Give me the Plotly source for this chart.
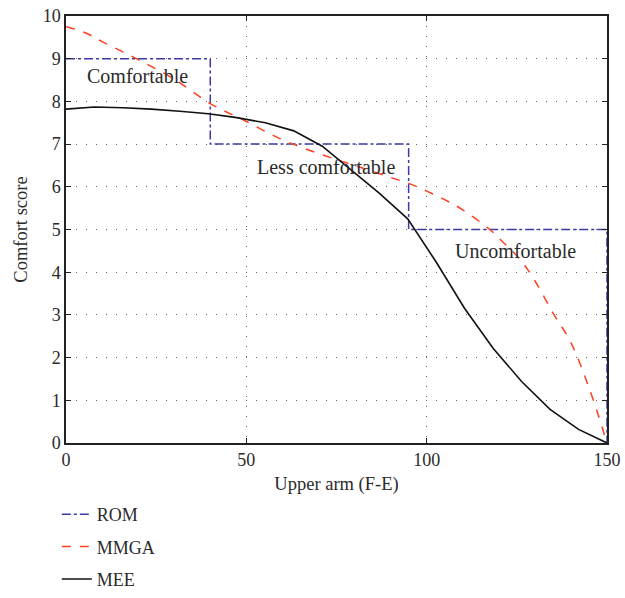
import plotly.graph_objects as go

# ROM step profile
rom_x = [0, 40, 40, 95, 95, 150, 150]
rom_y = [9, 9, 7, 7, 5, 5, 0]

# MMGA curve
mmga_x = [0, 5, 10, 20, 30, 40, 50, 60, 70, 80, 90, 95, 100, 105, 110, 117.5, 120, 126, 130, 135, 140, 145, 150]
mmga_y = [9.75, 9.62, 9.4, 8.98, 8.52, 7.95, 7.53, 7.1, 6.78, 6.5, 6.22, 6.08, 5.9, 5.7, 5.46, 5.0, 4.8, 4.29, 3.8, 3.05, 2.35, 1.3, 0.0]

# MEE curve
mee_x = [0.0, 7.89, 15.79, 23.68, 31.58, 39.47, 47.37, 55.26, 63.16, 71.05, 78.95, 86.84, 94.74,
         102.63, 110.53, 118.42, 126.32, 134.21, 142.11, 150.0]
mee_y = [7.82, 7.87, 7.85, 7.82, 7.77, 7.71, 7.62, 7.5, 7.31, 6.95, 6.4, 5.85, 5.25,
         4.24, 3.15, 2.22, 1.44, 0.79, 0.32, 0.0]

labels = ["Comfortable", "Less comfortable", "Uncomfortable"]
label_x = [19.7, 72.1, 124.5]
label_y = [8.59, 6.46, 4.5]

FONT = "Liberation Serif"
TXT = "#2a2a2a"

fig = go.Figure()
fig.add_trace(go.Scatter(x=rom_x, y=rom_y, mode="lines", name="ROM", legendgroup="a",
                         line=dict(color="#3b3ba8", dash="dashdot", width=1.5)))
fig.add_trace(go.Scatter(x=mmga_x, y=mmga_y, mode="lines", name="MMGA", legendgroup="b",
                         line=dict(color="#ff4020", dash="dash", width=1.5, shape="spline")))
fig.add_trace(go.Scatter(x=mee_x, y=mee_y, mode="lines", name="MEE", legendgroup="c",
                         line=dict(color="#111111", width=1.6)))

for t, x, y in zip(labels, label_x, label_y):
    fig.add_annotation(x=x, y=y, text=t, showarrow=False,
                       font=dict(family=FONT, size=20, color=TXT))

axis_common = dict(showline=True, linecolor="#222", linewidth=1.5, mirror="allticks",
                   ticks="inside", ticklen=5, tickcolor="#222",
                   showgrid=True, gridcolor="#666", griddash="1px,9px", gridwidth=1.2,
                   zeroline=False, automargin=False,
                   tickfont=dict(family=FONT, size=18, color=TXT))

fig.update_xaxes(range=[0, 150], tickvals=[0, 50, 100, 150],
                 title=dict(text="Upper arm (F-E)", font=dict(family=FONT, size=18.5, color=TXT),
                            standoff=8),
                 **axis_common)
fig.update_yaxes(range=[0, 10], dtick=1, domain=[0.2663, 1],
                 title=dict(text="Comfort score", font=dict(family=FONT, size=18.5, color=TXT),
                            standoff=10),
                 **axis_common)

fig.update_layout(
    width=625, height=598,
    margin=dict(l=66, r=18, t=16, b=0, autoexpand=False),
    plot_bgcolor="white", paper_bgcolor="white",
    font=dict(family=FONT, size=18, color=TXT),
    legend=dict(orientation="v", x=-0.017, y=0, xanchor="left", yanchor="bottom",
                traceorder="grouped", tracegroupgap=6,
                font=dict(family=FONT, size=18, color=TXT), bgcolor="rgba(0,0,0,0)"),
)

fig.write_html("out.html")
